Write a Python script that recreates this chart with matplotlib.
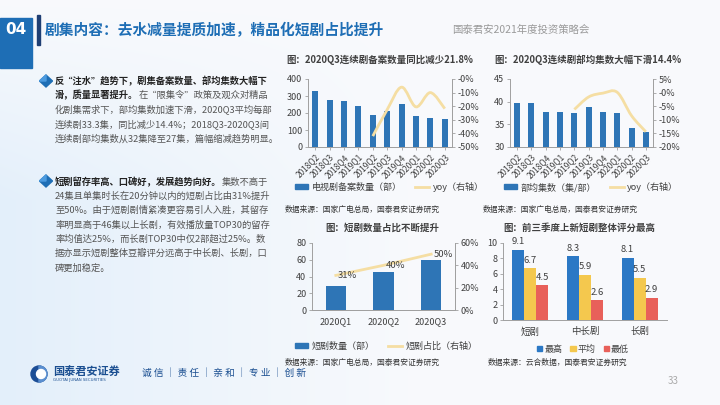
import numpy as np
import matplotlib
matplotlib.use('Agg')
import matplotlib.pyplot as plt
from matplotlib.path import Path
from matplotlib.patches import PathPatch, Polygon, Rectangle, Circle, Wedge
from matplotlib.lines import Line2D
from matplotlib.ticker import FuncFormatter

plt.rcParams['font.family'] = ['Noto Sans CJK SC', 'DejaVu Sans']

# ---- data ----
quarters = ['2018Q2', '2018Q3', '2018Q4', '2019Q1', '2019Q2',
            '2019Q3', '2019Q4', '2020Q1', '2020Q2', '2020Q3']
filings = [327, 278, 272, 239, 190, 214, 255, 184, 172, 167]
filings_yoy = [-0.42, -0.225, -0.06, -0.205, -0.10, -0.218]   # 2019Q2 .. 2020Q3
episodes = [39.8, 39.6, 37.8, 37.8, 37.4, 38.9, 37.8, 37.6, 34.3, 33.3]
episodes_yoy = [-0.062, -0.016, -0.002, 0.001, -0.085, -0.144]  # 2019Q2 .. 2020Q3
yoy_start = 4

short_quarters = ['2020Q1', '2020Q2', '2020Q3']
short_count = [29, 45, 60]
short_share = [0.31, 0.40, 0.50]

genres = ['短剧', '中长剧', '长剧']
score_max = [9.1, 8.3, 8.1]
score_avg = [6.7, 5.9, 5.5]
score_min = [4.5, 2.6, 2.9]

BLUE = '#2E75B6'
GOLD = '#F5DEA3'
C_MAX, C_AVG, C_MIN = '#2B78C5', '#F4C84E', '#E8605A'
TXT = '#404040'
W, H = 720, 405

fig = plt.figure(figsize=(7.2, 4.05), dpi=100)

# overlay axes in pixel coordinates for slide decoration
ov = fig.add_axes([0, 0, 1, 1])
ov.set_xlim(0, W)
ov.set_ylim(H, 0)
ov.axis('off')
yy, xx = np.mgrid[0:H, 0:W]
tint = 0.07 * np.clip(1 - xx / 420, 0, 1) * np.clip(yy / 200, 0, 1)
bg = np.zeros((H, W, 3))
bg[..., 0] = 0.975 - tint * 1.2
bg[..., 1] = 0.980 - tint * 0.6
bg[..., 2] = 0.990 - tint * 0.1
ov.imshow(bg, extent=(0, W, H, 0), aspect='auto', zorder=0)


def box(l, t, r, b):
    return [l / W, 1 - b / H, (r - l) / W, (b - t) / H]


def smooth_path(xs, ys):
    pts = np.column_stack([xs, ys]).astype(float)
    p = np.vstack([pts[0], pts, pts[-1]])
    verts = [tuple(pts[0])]
    codes = [Path.MOVETO]
    for i in range(1, len(p) - 2):
        c1 = p[i] + (p[i + 1] - p[i - 1]) / 6
        c2 = p[i + 1] - (p[i + 2] - p[i]) / 6
        verts += [tuple(c1), tuple(c2), tuple(p[i + 1])]
        codes += [Path.CURVE4] * 3
    return Path(verts, codes)


def style(ax, right=False):
    ax.set_facecolor('none')
    for s in ['top']:
        ax.spines[s].set_visible(False)
    for s in ['left', 'bottom', 'right']:
        ax.spines[s].set_color('#A0A0A0')
        ax.spines[s].set_linewidth(0.7)
    if not right:
        ax.spines['right'].set_visible(False)
    ax.tick_params(labelsize=6.5, colors='#A0A0A0', labelcolor=TXT,
                   length=2.5, width=0.6, pad=1.5)


pct = FuncFormatter(lambda v, _: f'{v * 100:.0f}%')

# ---- header ----
ov.add_patch(Rectangle((0, 18), 32, 50, color='#1E6EB5', zorder=2))
ov.text(16, 29, '04', color='white', fontsize=11, fontweight='bold',
        ha='center', va='center', family=['DejaVu Sans'], zorder=3)
ov.add_patch(Rectangle((37, 15), 3, 30, color='#1F3F74', zorder=2))
ov.text(45, 30, '剧集内容：去水减量提质加速，精品化短剧占比提升', color='#1E6EB5',
        fontsize=10.6, fontweight='bold', va='center')
ov.text(452, 30, '国泰君安2021年度投资策略会', color='#9A9A9A', fontsize=7.5, va='center')

# ---- left text ----
renderer = fig.canvas.get_renderer()


def put_line(x, y, parts):
    for s, bold in parts:
        t = ov.text(x, y, s, fontsize=6.7, va='center',
                    color='#222222' if bold else '#555555',
                    fontweight='bold' if bold else 'normal')
        x = t.get_window_extent(renderer).x1


def diamond(cx, cy):
    ov.add_patch(Polygon([(cx - 6.5, cy), (cx, cy - 6), (cx + 6.5, cy), (cx, cy + 6)],
                         closed=True, color='#1E6EB5', zorder=3))
    ov.add_patch(Polygon([(cx - 6.5, cy), (cx, cy - 6), (cx, cy)],
                         closed=True, color='#4C9BE0', zorder=3))


para1 = [
    [('反“注水”趋势下，剧集备案数量、部均集数大幅下', True)],
    [('滑，质量显著提升。', True), ('在“限集令”政策及观众对精品', False)],
    [('化剧集需求下，部均集数加速下滑，2020Q3平均每部', False)],
    [('连续剧33.3集，同比减少14.4%；2018Q3-2020Q3间', False)],
    [('连续剧部均集数从32集降至27集，篇幅缩减趋势明显。', False)],
]
para2 = [
    [('短剧留存率高、口碑好，发展趋势向好。', True), ('集数不高于', False)],
    [('24集且单集时长在20分钟以内的短剧占比由31%提升', False)],
    [('至50%。由于短剧剧情紧凑更容易引人入胜，其留存', False)],
    [('率明显高于46集以上长剧，有效播放量TOP30的留存', False)],
    [('率均值达25%，而长剧TOP30中仅2部超过25%。数', False)],
    [('据亦显示短剧整体豆瓣评分远高于中长剧、长剧，口', False)],
    [('碑更加稳定。', False)],
]
diamond(46, 81)
for i, parts in enumerate(para1):
    put_line(55, 81 + 14.4 * i, parts)
diamond(46, 181)
for i, parts in enumerate(para2):
    put_line(55, 182 + 14.3 * i, parts)

# ---- chart 1: filings ----
x = np.arange(len(quarters))
ax1 = fig.add_axes(box(308, 79, 452, 147))
style(ax1, right=True)
ax1.bar(x, filings, width=0.42, color=BLUE)
ax1.set_xlim(-0.5, len(quarters) - 0.5)
ax1.set_ylim(0, 400)
ax1.set_yticks([0, 100, 200, 300, 400])
ax1.set_xticks(x)
ax1.set_xticklabels(quarters, rotation=45, ha='right', rotation_mode='anchor', fontsize=6)
ax1r = ax1.twinx()
style(ax1r, right=True)
ax1r.spines['left'].set_visible(False)
ax1r.set_ylim(-0.5, 0)
ax1r.set_yticks(np.arange(-0.5, 0.01, 0.1))
ax1r.yaxis.set_major_formatter(pct)
ax1r.add_patch(PathPatch(smooth_path(x[yoy_start:], filings_yoy), fill=False,
                         ec=GOLD, lw=2))
ax1.legend([Rectangle((0, 0), 1, 1, color=BLUE), Line2D([], [], color=GOLD, lw=2)],
           ['电视剧备案数量（部）', 'yoy（右轴）'], ncol=2, frameon=False,
           fontsize=6.5, loc='center', bbox_to_anchor=(389 / W, 1 - 187 / H),
           bbox_transform=fig.transFigure, handlelength=1.5, handleheight=0.5,
           columnspacing=1.5, handletextpad=0.4, labelcolor=TXT)
ov.text(380, 60, '图：2020Q3连续剧备案数量同比减少21.8%', fontsize=6.8,
        fontweight='bold', color=TXT, ha='center', va='center')
ov.text(285, 210, '数据来源：国家广电总局，国泰君安证券研究', fontsize=5.6,
        color='#333333', va='center')

# ---- chart 2: episodes per series ----
ax2 = fig.add_axes(box(510, 79, 653, 147))
style(ax2, right=True)
ax2.bar(x, episodes, width=0.42, color=BLUE)
ax2.set_xlim(-0.5, len(quarters) - 0.5)
ax2.set_ylim(30, 45)
ax2.set_yticks([30, 35, 40, 45])
ax2.set_xticks(x)
ax2.set_xticklabels(quarters, rotation=45, ha='right', rotation_mode='anchor', fontsize=6)
ax2r = ax2.twinx()
style(ax2r, right=True)
ax2r.spines['left'].set_visible(False)
ax2r.set_ylim(-0.2, 0.05)
ax2r.set_yticks(np.arange(-0.2, 0.051, 0.05))
ax2r.yaxis.set_major_formatter(pct)
ax2r.add_patch(PathPatch(smooth_path(x[yoy_start:], episodes_yoy), fill=False,
                         ec=GOLD, lw=2))
ax2.legend([Rectangle((0, 0), 1, 1, color=BLUE), Line2D([], [], color=GOLD, lw=2)],
           ['部均集数（集/部）', 'yoy（右轴）'], ncol=2, frameon=False,
           fontsize=6.5, loc='center', bbox_to_anchor=(591 / W, 1 - 187 / H),
           bbox_transform=fig.transFigure, handlelength=1.5, handleheight=0.5,
           columnspacing=1.5, handletextpad=0.4, labelcolor=TXT)
ov.text(588, 60, '图：2020Q3连续剧部均集数大幅下滑14.4%', fontsize=6.8,
        fontweight='bold', color=TXT, ha='center', va='center')
ov.text(483, 210, '数据来源：国家广电总局，国泰君安证券研究', fontsize=5.6,
        color='#333333', va='center')

# ---- chart 3: short series share ----
xs = np.arange(len(short_quarters))
ax3 = fig.add_axes(box(312, 243, 455, 310))
style(ax3, right=True)
ax3.bar(xs, short_count, width=0.42, color=BLUE)
ax3.set_xlim(-0.5, 2.5)
ax3.set_ylim(0, 80)
ax3.set_yticks([0, 20, 40, 60, 80])
ax3.set_xticks(xs)
ax3.set_xticklabels(short_quarters, fontsize=6.5)
ax3.tick_params(axis='x', length=0, pad=5)
ax3r = ax3.twinx()
style(ax3r, right=True)
ax3r.spines['left'].set_visible(False)
ax3r.set_ylim(0, 0.6)
ax3r.set_yticks([0, 0.2, 0.4, 0.6])
ax3r.yaxis.set_major_formatter(pct)
ax3r.plot(xs, short_share, color=GOLD, lw=2)
for xi, v in zip(xs, short_share):
    ax3r.annotate(f'{v * 100:.0f}%', (xi, v), xytext=(1.5, 0), textcoords='offset points',
                  fontsize=6.8, color=TXT, ha='left', va='center')
ax3.legend([Rectangle((0, 0), 1, 1, color=BLUE), Line2D([], [], color=GOLD, lw=2)],
           ['短剧数量（部）', '短剧占比（右轴）'], ncol=2, frameon=False,
           fontsize=6.5, loc='center', bbox_to_anchor=(386 / W, 1 - 346 / H),
           bbox_transform=fig.transFigure, handlelength=1.5, handleheight=0.5,
           columnspacing=1.5, handletextpad=0.4, labelcolor=TXT)
ov.text(382, 228, '图：短剧数量占比不断提升', fontsize=6.8,
        fontweight='bold', color=TXT, ha='center', va='center')
ov.text(285, 363, '数据来源：国家广电总局，国泰君安证券研究', fontsize=5.6,
        color='#333333', va='center')

# ---- chart 4: douban scores ----
xg = np.arange(len(genres))
bw = 0.22
ax4 = fig.add_axes(box(503, 243, 667, 320))
style(ax4)
for off, vals, col in [(-bw, score_max, C_MAX), (0, score_avg, C_AVG), (bw, score_min, C_MIN)]:
    bars = ax4.bar(xg + off, vals, width=bw, color=col)
    for b, v in zip(bars, vals):
        ax4.annotate(f'{v:.1f}', (b.get_x() + b.get_width() / 2, v), xytext=(0, 2.5),
                     textcoords='offset points', ha='center', va='bottom',
                     fontsize=6.8, color=TXT)
ax4.set_xlim(-0.5, 2.5)
ax4.set_ylim(0, 10)
ax4.set_yticks(range(0, 11, 2))
ax4.set_xticks(xg)
ax4.set_xticklabels(genres, fontsize=6.8)
ax4.tick_params(axis='x', length=0, pad=5)
ax4.legend([Rectangle((0, 0), 1, 1, color=c) for c in (C_MAX, C_AVG, C_MIN)],
           ['最高', '平均', '最低'], ncol=3, frameon=False, fontsize=6.5,
           loc='center', bbox_to_anchor=(583 / W, 1 - 349 / H),
           bbox_transform=fig.transFigure, handlelength=0.6, handleheight=0.6,
           columnspacing=0.9, handletextpad=0.2, labelcolor=TXT)
ov.text(579, 228, '图：前三季度上新短剧整体评分最高', fontsize=6.8,
        fontweight='bold', color=TXT, ha='center', va='center')
ov.text(488, 363, '数据来源：云合数据，国泰君安证券研究', fontsize=5.6,
        color='#333333', va='center')

# ---- footer ----
ov.add_patch(Circle((39, 374), 8, color='#1C4E96', zorder=3))
ov.add_patch(Wedge((39, 374), 8, -90, 90, color='#5A8FD0', zorder=3))
ov.add_patch(Circle((41, 374), 4.5, color='white', zorder=4))
ov.text(53, 371, '国泰君安证券', fontsize=8, fontweight='bold', color='#1B4F91', va='center')
ov.text(53, 380, 'GUOTAI JUNAN SECURITIES', fontsize=2.8, color='#1B4F91', va='center',
        family=['DejaVu Sans'])
ov.text(142, 373, '诚 信 │ 责 任 │ 亲 和 │ 专 业 │ 创 新', fontsize=7,
        color='#1B4F91', va='center')
ov.text(668, 381, '33', fontsize=7, color='#AAAAAA', va='center')

fig.savefig('out.png', dpi=100)
